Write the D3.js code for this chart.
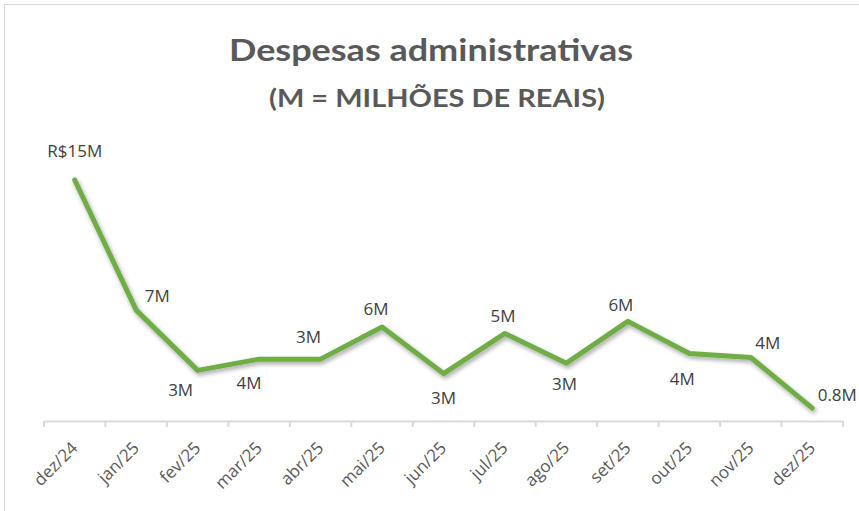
<!DOCTYPE html>
<html>
<head>
<meta charset="utf-8">
<script src="https://cdn.jsdelivr.net/npm/d3@7"></script>
<style>
  body { margin: 0; background: #fff; }
  svg { display: block; }
</style>
</head>
<body>
<div id="chart"></div>
<script>
// dados do gráfico (milhões de reais)
const months = ['dez/24', 'jan/25', 'fev/25', 'mar/25', 'abr/25', 'mai/25', 'jun/25',
  'jul/25', 'ago/25', 'set/25', 'out/25', 'nov/25', 'dez/25']
const values = [15.0, 6.9, 3.15, 3.85, 3.85, 5.85, 2.95, 5.45, 3.6, 6.2, 4.2, 3.95, 0.8]
const labels = ['R$15M', '7M', '3M', '4M', '3M', '6M', '3M', '5M', '3M', '6M', '4M', '4M', '0.8M']

// deslocamento de cada rótulo em relação ao ponto (como o Excel colocou)
const labelOffset = [[0, -23], [21, -8], [-17, 26], [-10, 30], [-12, -16], [-6, -12], [0, 30],
  [-2, -11], [-2, 27], [-7, -10], [-7, 31], [17, -9], [25, -7]]

const width = 859
const height = 511

const svg = d3.select('#chart').append('svg')
  .attr('width', width)
  .attr('height', height)

// sombra da linha
const defs = svg.append('defs')
const shadow = defs.append('filter')
  .attr('id', 'shadow')
  .attr('x', '-10%').attr('y', '-10%')
  .attr('width', '120%').attr('height', '130%')
shadow.append('feDropShadow')
  .attr('dx', 1.5).attr('dy', 2.5)
  .attr('stdDeviation', 2)
  .attr('flood-color', '#000')
  .attr('flood-opacity', 0.35)

// moldura do gráfico
svg.append('rect')
  .attr('x', 4.5).attr('y', 4.5)
  .attr('width', 900).attr('height', 600)
  .attr('fill', '#fff')
  .attr('stroke', '#d9d9d9')

// títulos
svg.append('text')
  .attr('x', 431).attr('y', 61)
  .attr('text-anchor', 'middle')
  .style('font-family', 'Lato, "Open Sans", sans-serif')
  .style('font-weight', 'bold')
  .style('font-size', '31px')
  .attr('fill', '#595959')
  .attr('textLength', 404)
  .attr('lengthAdjust', 'spacingAndGlyphs')
  .text('Despesas administrativas')

svg.append('text')
  .attr('x', 437).attr('y', 107)
  .attr('text-anchor', 'middle')
  .style('font-family', 'Lato, "Open Sans", sans-serif')
  .style('font-weight', 'bold')
  .style('font-size', '24px')
  .attr('fill', '#595959')
  .attr('textLength', 336)
  .attr('lengthAdjust', 'spacingAndGlyphs')
  .text('(M = MILHÕES DE REAIS)')

// escalas
const x = d3.scaleBand()
  .domain(months)
  .range([44, 843])

const y = d3.scaleLinear()
  .domain([0, 16])
  .range([421, 421 - 16 * 16.07])

// eixo x
const xAxis = d3.axisBottom(x)
  .tickSize(0)
  .tickFormat('')

const gx = svg.append('g')
  .attr('transform', 'translate(0, 421)')
  .call(xAxis)
gx.select('.domain').attr('stroke', '#d9d9d9').attr('stroke-width', 2)

// marcas entre categorias
const edges = months.map((m) => x(m)).concat([x.range()[1]])
gx.selectAll('.edge')
  .data(edges)
  .enter()
  .append('line')
  .attr('class', 'edge')
  .attr('x1', (d) => d).attr('x2', (d) => d)
  .attr('y1', 0).attr('y2', 6)
  .attr('stroke', '#d9d9d9')
  .attr('stroke-width', 2)

// rótulos do eixo x (girados)
svg.append('g')
  .selectAll('text')
  .data(months)
  .enter()
  .append('text')
  .attr('transform', (d) => 'translate(' + (x(d) + x.bandwidth() / 2 + 4) + ', 449) rotate(-45)')
  .attr('text-anchor', 'end')
  .style('font-family', '"Open Sans", sans-serif')
  .style('font-size', '17px')
  .attr('fill', '#595959')
  .text((d) => d)

// linha
const line = d3.line()
  .x((d, i) => x(months[i]) + x.bandwidth() / 2)
  .y((d) => y(d))

svg.append('path')
  .datum(values)
  .attr('d', line)
  .attr('fill', 'none')
  .attr('stroke', '#70ad47')
  .attr('stroke-width', 5)
  .attr('stroke-linejoin', 'round')
  .attr('stroke-linecap', 'round')
  .attr('filter', 'url(#shadow)')

// rótulos de dados
svg.append('g')
  .selectAll('text')
  .data(values)
  .enter()
  .append('text')
  .attr('x', (d, i) => x(months[i]) + x.bandwidth() / 2 + labelOffset[i][0])
  .attr('y', (d, i) => y(d) + labelOffset[i][1])
  .attr('text-anchor', 'middle')
  .style('font-family', '"Open Sans", sans-serif')
  .style('font-size', '17px')
  .attr('fill', '#404040')
  .text((d, i) => labels[i])
</script>
</body>
</html>
